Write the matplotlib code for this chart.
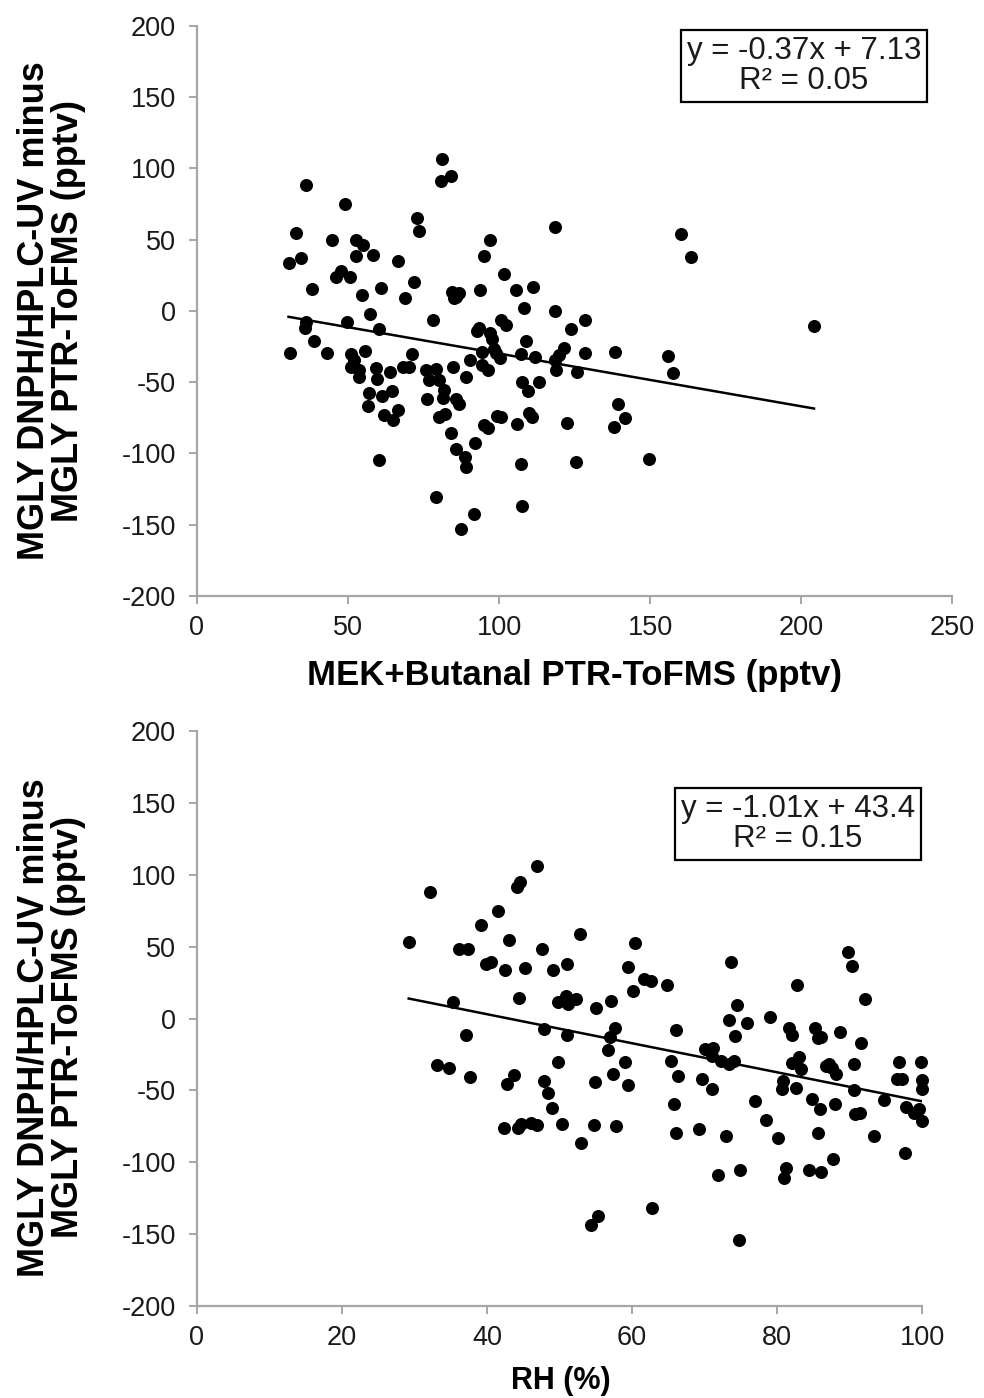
import numpy as np
import matplotlib
matplotlib.use("Agg")
import matplotlib.pyplot as plt

plt.rcParams['font.family'] = ['Liberation Sans', 'DejaVu Sans']
plt.rcParams['axes.unicode_minus'] = False

# ---- top panel: MEK+Butanal vs MGLY difference
mek_x = [81.0, 84.1, 80.9, 36.2, 49.1, 72.9, 73.4, 118.5, 32.7, 44.6,
         52.5, 54.9, 97.1, 95.1, 52.5, 58.2, 34.3, 30.3, 66.4, 47.6,
         45.9, 50.5, 101.6, 38.2, 61.0, 71.9, 105.6, 111.2, 54.5, 69.0,
         84.6, 86.8, 85.7, 85.1, 93.7, 108.3, 118.5, 57.4, 78.0, 49.7,
         36.0, 35.7, 60.1, 100.6, 102.2, 93.4, 92.6, 124.0, 97.0, 97.8,
         109.1, 38.6, 30.7, 43.0, 55.5, 51.1, 52.0, 71.1, 94.5, 98.3,
         98.9, 100.2, 107.2, 111.8, 121.5, 119.8, 118.7, 119.0, 51.1, 53.8,
         53.8, 59.3, 59.5, 64.0, 68.3, 70.3, 75.8, 79.1, 76.9, 80.2,
         84.8, 90.3, 89.2, 94.5, 96.5, 125.8, 107.5, 109.7, 113.2, 57.1,
         61.2, 64.5, 81.8, 81.3, 56.5, 76.3, 85.7, 86.8, 62.0, 65.0,
         66.7, 80.2, 82.1, 99.4, 100.6, 109.9, 111.0, 95.0, 96.5, 106.0,
         122.5, 84.1, 92.1, 85.7, 88.8, 89.2, 60.4, 107.2, 125.5, 79.1,
         107.7, 91.7, 87.4, 160.3, 163.6, 204.3, 128.6, 128.6, 138.5, 155.8,
         157.7, 139.4, 141.8, 138.0, 149.7]
mek_y = [106.4, 94.9, 91.4, 88.6, 74.8, 65.4, 55.9, 58.9, 54.5, 49.6,
         49.8, 46.5, 49.6, 38.8, 38.8, 39.1, 37.0, 33.5, 35.3, 27.8,
         24.1, 24.1, 26.2, 15.6, 15.9, 20.1, 14.5, 16.8, 11.4, 9.3,
         13.5, 12.4, 10.0, 8.9, 14.5, 2.1, 0.0, -2.1, -6.5, -7.5,
         -7.5, -11.7, -12.4, -6.3, -10.0, -12.1, -13.8, -12.6, -15.6, -19.8,
         -21.0, -21.2, -29.5, -29.5, -27.8, -30.4, -34.4, -30.4, -28.5, -26.6,
         -29.7, -33.2, -30.4, -32.5, -26.2, -30.9, -34.4, -41.4, -39.1, -41.4,
         -46.1, -40.2, -47.7, -43.0, -39.1, -39.1, -41.4, -40.5, -48.4, -48.4,
         -39.1, -34.4, -46.5, -37.9, -41.4, -42.6, -50.0, -55.9, -49.6, -57.7,
         -59.4, -55.9, -55.4, -60.8, -66.4, -61.9, -61.9, -65.2, -72.9, -76.4,
         -69.4, -74.1, -72.4, -73.6, -74.1, -71.3, -74.5, -79.9, -81.8, -79.2,
         -78.8, -85.3, -92.8, -97.0, -102.6, -109.6, -104.5, -107.3, -105.7, -130.6,
         -136.7, -142.4, -152.7, 53.8, 37.7, -10.5, -6.3, -29.7, -28.5, -31.6,
         -43.3, -65.2, -74.8, -81.1, -104.0]
mek_fit = (-0.37, 7.13)
mek_eq = "y = -0.37x + 7.13\nR² = 0.05"

# ---- bottom panel: RH vs MGLY difference
rh_x = [32.2, 29.2, 33.1, 46.9, 44.5, 44.1, 41.5, 39.2, 36.2, 37.4,
        43.1, 47.6, 52.8, 60.4, 39.9, 40.5, 42.5, 45.2, 49.1, 51.0,
        59.4, 61.7, 62.6, 64.8, 60.1, 44.4, 35.3, 49.8, 50.9, 51.2,
        52.3, 55.0, 57.1, 66.1, 47.8, 51.0, 57.6, 56.9, 37.1, 56.7,
        65.4, 59.0, 49.8, 34.8, 37.7, 43.7, 42.7, 47.8, 48.4, 54.9,
        57.4, 59.5, 66.4, 48.9, 65.8, 42.4, 44.3, 44.7, 46.1, 46.9,
        50.4, 54.7, 57.8, 66.1, 53.0, 55.3, 54.4, 62.8, 89.8, 90.4,
        73.7, 82.8, 92.1, 74.5, 73.4, 75.8, 79.1, 74.2, 81.7, 82.1,
        85.3, 85.6, 86.0, 88.7, 91.6, 70.0, 71.2, 71.1, 72.3, 73.4,
        74.0, 82.1, 83.0, 83.3, 86.7, 87.2, 88.1, 87.6, 90.6, 96.8,
        96.6, 97.3, 99.8, 100.0, 100.0, 80.8, 80.7, 82.6, 69.7, 71.0,
        90.6, 94.8, 84.8, 85.9, 88.0, 77.0, 97.8, 98.9, 99.6, 100.0,
        90.8, 91.4, 78.5, 69.2, 73.0, 80.1, 85.7, 93.4, 87.7, 97.7,
        71.8, 74.9, 81.3, 80.9, 84.4, 86.1, 74.7]
rh_y = [87.9, 53.5, -32.3, 106.0, 94.8, 91.4, 74.6, 65.1, 48.4, 48.4,
        54.7, 48.4, 58.9, 52.3, 37.9, 39.1, 33.8, 34.9, 33.8, 37.9,
        35.6, 27.5, 26.3, 23.3, 18.8, 14.6, 11.2, 11.2, 15.8, 10.0,
        13.5, 7.3, 12.3, -8.1, -7.4, -11.6, -6.7, -13.2, -11.6, -22.0,
        -29.5, -30.0, -30.0, -34.6, -40.7, -39.3, -45.3, -43.4, -51.6, -43.9,
        -38.8, -46.4, -40.0, -62.5, -59.3, -76.0, -76.0, -73.6, -72.5, -74.3,
        -73.2, -74.1, -75.0, -79.5, -86.9, -137.1, -143.4, -131.8, 46.5, 36.7,
        39.1, 23.3, 13.9, 9.6, -0.9, -3.0, 1.2, -12.3, -6.3, -11.6,
        -6.7, -13.7, -13.2, -9.3, -16.7, -21.3, -20.2, -26.0, -29.5, -31.8,
        -29.5, -30.7, -26.7, -34.9, -33.0, -31.4, -38.8, -34.2, -31.4, -30.2,
        -41.8, -41.8, -30.2, -43.0, -49.2, -43.4, -49.2, -48.1, -41.8, -49.2,
        -49.9, -56.7, -56.2, -62.8, -59.3, -57.4, -61.6, -65.6, -63.2, -71.3,
        -66.7, -65.6, -70.9, -76.7, -81.8, -83.0, -79.5, -81.8, -97.4, -93.9,
        -109.0, -105.5, -103.9, -110.9, -105.7, -106.7, -153.8]
rh_fit = (-1.01, 43.4)
rh_eq = "y = -1.01x + 43.4\nR² = 0.15"

ylabel = "MGLY DNPH/HPLC-UV minus\nMGLY PTR-ToFMS (pptv)"
axis_grey = "#a6a6a6"


def style_axes(ax, xlim, xticks):
    ax.set_xlim(*xlim)
    ax.set_ylim(-200, 200)
    ax.set_xticks(xticks)
    ax.set_yticks(np.arange(-200, 201, 50))
    for side in ("top", "right"):
        ax.spines[side].set_visible(False)
    for side in ("left", "bottom"):
        ax.spines[side].set_color(axis_grey)
        ax.spines[side].set_linewidth(1.6)
    ax.tick_params(axis="both", direction="out", length=6, width=1.4,
                   color=axis_grey, labelsize=19.5, labelcolor="#1a1a1a")
    ax.tick_params(axis="y", pad=9)
    ax.tick_params(axis="x", pad=8)


def panel(ax, x, y, fit, eq, box_xy):
    ax.scatter(x, y, s=88, color="black", zorder=3, clip_on=False,
               linewidths=0)
    xs = np.array([min(x), max(x)])
    ax.plot(xs, fit[0] * xs + fit[1], color="black", lw=1.8, zorder=2)
    ax.text(box_xy[0], box_xy[1], eq, transform=ax.transAxes, ha="center",
            va="center", fontsize=22.5, linespacing=1.0, color="#1a1a1a",
            bbox=dict(boxstyle="square,pad=0.2", fc="white", ec="black",
                      lw=1.6))
    ax.set_ylabel(ylabel, fontsize=26, fontweight="bold", linespacing=1.0,
                  va="center")


fig = plt.figure(figsize=(9.84, 13.98), dpi=100)
ax1 = fig.add_axes([0.2002, 0.5737, 0.7673, 0.4077])
ax2 = fig.add_axes([0.2002, 0.0658, 0.7368, 0.4113])

style_axes(ax1, (0, 250), np.arange(0, 251, 50))
panel(ax1, mek_x, mek_y, mek_fit, mek_eq, (0.804, 0.930))
ax1.set_xlabel("MEK+Butanal PTR-ToFMS (pptv)", fontsize=25,
               fontweight="bold", va="center")
ax1.xaxis.set_label_coords(0.5, -0.140)
ax1.yaxis.set_label_coords(-0.193, 0.5)

style_axes(ax2, (0, 100), np.arange(0, 101, 20))
panel(ax2, rh_x, rh_y, rh_fit, rh_eq, (0.829, 0.838))
ax2.set_xlabel("RH (%)", fontsize=22, fontweight="bold", va="center")
ax2.xaxis.set_label_coords(0.502, -0.130)
ax2.yaxis.set_label_coords(-0.201, 0.485)

fig.savefig("out.png", dpi=100)
